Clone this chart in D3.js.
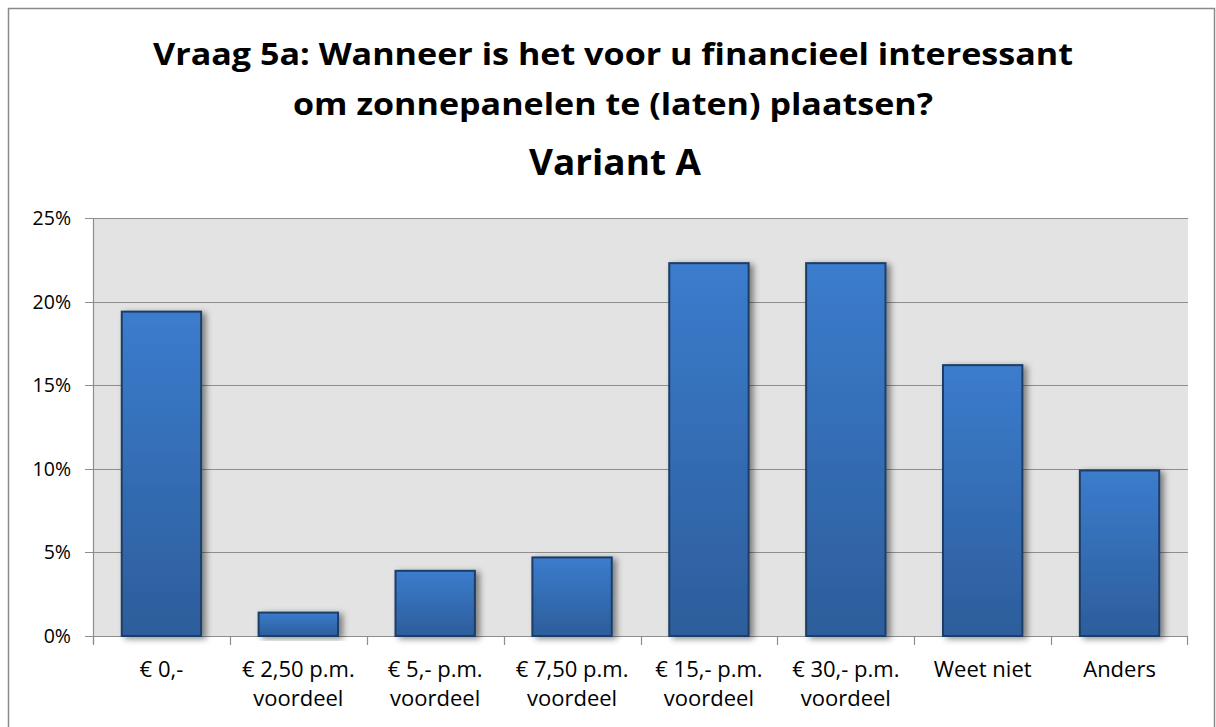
<!DOCTYPE html>
<html>
<head>
<meta charset="utf-8">
<script src="https://cdn.jsdelivr.net/npm/d3@7"></script>
<style>
  body { margin: 0; background: #fff; }
  svg { display: block; }
</style>
</head>
<body>
<svg id="grafiek" width="1216" height="727"></svg>
<script>
// data
var categorieen = ["€ 0,-", "€ 2,50 p.m. voordeel", "€ 5,- p.m. voordeel", "€ 7,50 p.m. voordeel",
                   "€ 15,- p.m. voordeel", "€ 30,- p.m. voordeel", "Weet niet", "Anders"];
var labelRegels = [["€ 0,-"], ["€ 2,50 p.m.", "voordeel"], ["€ 5,- p.m.", "voordeel"], ["€ 7,50 p.m.", "voordeel"],
                   ["€ 15,- p.m.", "voordeel"], ["€ 30,- p.m.", "voordeel"], ["Weet niet"], ["Anders"]];
var waarden = [0.194, 0.014, 0.039, 0.047, 0.223, 0.223, 0.162, 0.099];
var yTicks = [0, 0.05, 0.10, 0.15, 0.20, 0.25];
var titelRegels = ["Vraag 5a: Wanneer is het voor u financieel interessant",
                   "om zonnepanelen te (laten) plaatsen?"];
var subtitel = "Variant A";

var svg = d3.select("#grafiek");
var lettertype = "'Open Sans', 'Noto Sans', sans-serif";

var margin = {top: 218, left: 93, right: 28, bottom: 91};
var width = 1216 - margin.left - margin.right,
    height = 727 - margin.top - margin.bottom;

// buitenkader
svg.append("rect")
  .attr("x", 8.5).attr("y", 8.5)
  .attr("width", 1206).attr("height", 730)
  .attr("fill", "#fff")
  .attr("stroke", "#8a8a8a")
  .attr("stroke-width", 1.5);

var defs = svg.append("defs");
var grad = defs.append("linearGradient")
  .attr("id", "balkKleur").attr("x1", 0).attr("y1", 0).attr("x2", 0).attr("y2", 1);
grad.append("stop").attr("offset", "0%").attr("stop-color", "#3b7ccd");
grad.append("stop").attr("offset", "100%").attr("stop-color", "#2d5d9b");

var schaduw = defs.append("filter").attr("id", "schaduw")
  .attr("x", "-20%").attr("y", "-20%").attr("width", "150%").attr("height", "140%");
schaduw.append("feDropShadow")
  .attr("dx", 4).attr("dy", 2).attr("stdDeviation", 3)
  .attr("flood-color", "#000").attr("flood-opacity", 0.45);

// titel
var titel = svg.append("g")
  .attr("font-family", lettertype)
  .attr("font-weight", "bold")
  .attr("text-anchor", "middle")
  .attr("fill", "#000");

titel.selectAll("text.regel")
  .data(titelRegels)
  .enter().append("text")
    .attr("class", "regel")
    .attr("x", 613)
    .attr("y", function(d, i) { return 65 + i * 50; })
    .attr("font-size", 31)
    .attr("textLength", function(d, i) { return i == 0 ? 920 : 640; })
    .attr("lengthAdjust", "spacingAndGlyphs")
    .text(function(d) { return d; });

titel.append("text")
  .attr("x", 615)
  .attr("y", 175)
  .attr("font-size", 36)
  .attr("textLength", 172)
  .attr("lengthAdjust", "spacingAndGlyphs")
  .text(subtitel);

var g = svg.append("g").attr("transform", "translate(" + margin.left + "," + margin.top + ")");

var x = d3.scaleBand().domain(categorieen).range([0, width]).paddingInner(0.42).paddingOuter(0.21);
var xRand = d3.scaleBand().domain(categorieen).range([0, width]);
var y = d3.scaleLinear().domain([0, 0.25]).range([height, 0]);

// plotgebied
g.append("rect")
  .attr("width", width).attr("height", height)
  .attr("fill", "#e3e3e3");

// rasterlijnen
g.append("g")
  .selectAll("line")
  .data(yTicks)
  .enter().append("line")
    .attr("x1", -8).attr("x2", width)
    .attr("y1", function(d) { return Math.round(y(d)) + 0.5; })
    .attr("y2", function(d) { return Math.round(y(d)) + 0.5; })
    .attr("stroke", "#8e8e8e")
    .attr("stroke-width", 1.2);

// y as
g.append("line")
  .attr("x1", 0.5).attr("x2", 0.5).attr("y1", 0).attr("y2", height + 8)
  .attr("stroke", "#8e8e8e").attr("stroke-width", 1.2);

g.append("g")
  .attr("font-family", lettertype)
  .attr("font-size", 19.5)
  .attr("text-anchor", "end")
  .selectAll("text")
  .data(yTicks)
  .enter().append("text")
    .attr("x", -22)
    .attr("y", function(d) { return y(d); })
    .attr("dy", "0.36em")
    .text(d3.format(".0%"));

// x as streepjes
g.append("g")
  .selectAll("line")
  .data(categorieen.concat(["einde"]))
  .enter().append("line")
    .attr("x1", function(d, i) { return i < categorieen.length ? Math.round(xRand(d)) + 0.5 : width - 0.5; })
    .attr("x2", function(d, i) { return i < categorieen.length ? Math.round(xRand(d)) + 0.5 : width - 0.5; })
    .attr("y1", height).attr("y2", height + 9)
    .attr("stroke", "#8e8e8e").attr("stroke-width", 1.2);

// balken
g.append("g")
  .selectAll("rect")
  .data(waarden)
  .enter().append("rect")
    .attr("x", function(d, i) { return x(categorieen[i]); })
    .attr("y", function(d) { return y(d); })
    .attr("width", x.bandwidth())
    .attr("height", function(d) { return height - y(d); })
    .attr("fill", "url(#balkKleur)")
    .attr("stroke", "#1e3d66")
    .attr("stroke-width", 2)
    .attr("filter", "url(#schaduw)");

// x labels
var xLabels = g.append("g")
  .attr("font-family", lettertype)
  .attr("font-size", 22)
  .attr("text-anchor", "middle")
  .selectAll("text")
  .data(labelRegels)
  .enter().append("text")
    .attr("transform", function(d, i) { return "translate(" + (xRand(categorieen[i]) + xRand.bandwidth() / 2) + "," + (height + 41) + ")"; });

xLabels.selectAll("tspan")
  .data(function(d) { return d; })
  .enter().append("tspan")
    .attr("x", 0)
    .attr("y", function(d, i) { return i * 29; })
    .text(function(d) { return d; });
</script>
</body>
</html>
